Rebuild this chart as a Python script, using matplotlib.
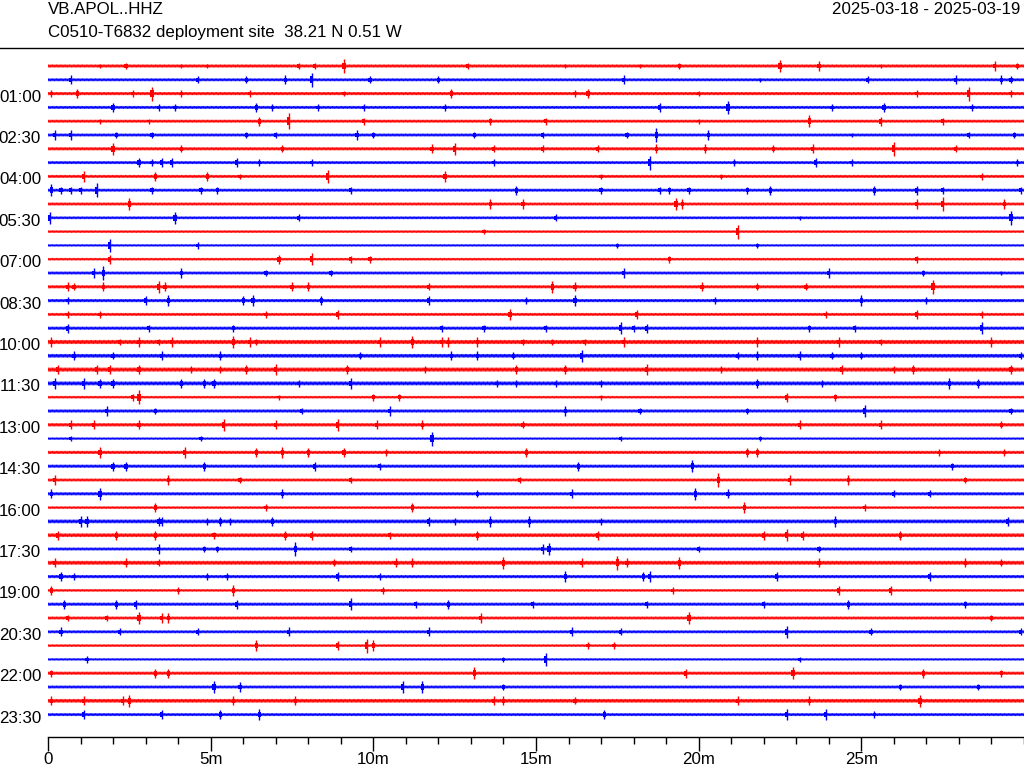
import matplotlib
matplotlib.use("Agg")
import numpy as np
import matplotlib.pyplot as plt
from matplotlib.lines import Line2D
from matplotlib.ticker import MultipleLocator

plt.rcParams['font.family'] = ['Liberation Sans', 'DejaVu Sans']

STATION = "VB.APOL..HHZ"
SITE = "C0510-T6832 deployment site  38.21 N 0.51 W"
DATES = "2025-03-18 - 2025-03-19"

ROW_LABELS = ["%02d:%02d" % (h, m) for h in range(24) for m in (0, 30)]
SHOWN_LABELS = ["01:00", "02:30", "04:00", "05:30", "07:00", "08:30", "10:00", "11:30",
                "13:00", "14:30", "16:00", "17:30", "19:00", "20:30", "22:00", "23:30"]
X_TICKS = [0, 5, 10, 15, 20, 25]
X_TICK_LABELS = ["0", "5m", "10m", "15m", "20m", "25m"]
ROW_MINUTES = 30

# background noise half-amplitude of each 30-minute row (pixels)
NOISE = [1.5, 1.4, 1.5, 1.4, 1.4, 1.4, 1.5, 1.4, 1.4, 1.4, 1.4, 1.3,
         1.2, 1.1, 1.2, 1.4, 1.5, 1.5, 1.4, 1.5, 2.0, 1.8, 2.0, 1.9,
         1.2, 1.5, 1.6, 1.1, 1.5, 1.5, 1.4, 1.5, 1.2, 1.8, 1.8, 1.4,
         1.9, 1.5, 1.2, 1.5, 1.4, 1.4, 1.2, 1.1, 1.5, 1.4, 1.8, 1.4]

# minutes into the row of the visible transients, and their half-amplitudes
EVENT_TIMES = [
    [1.6, 2.4, 4.1, 4.9, 7.7, 8.2, 9.1, 12.9, 15.9, 18.2, 19.4, 22.5, 23.7, 25.6, 29.1, 29.8],
    [0.7, 4.6, 6.1, 7.3, 8.1, 9.9, 12.0, 17.7, 21.9, 25.2, 27.9, 29.3, 29.6],
    [0.1, 0.9, 2.6, 3.2, 4.1, 6.2, 9.1, 12.4, 16.2, 16.6, 20.0, 26.7, 28.3, 29.6],
    [2.0, 3.4, 3.9, 6.4, 6.9, 8.3, 9.7, 12.2, 18.8, 20.9, 24.1, 25.7, 28.4],
    [1.6, 3.1, 6.5, 7.4, 9.7, 13.6, 15.3, 20.0, 23.4, 25.6, 27.5],
    [0.2, 0.7, 2.1, 3.2, 6.1, 7.0, 9.5, 10.0, 13.1, 15.2, 17.8, 18.7, 20.3, 24.7, 28.3, 29.7],
    [2.0, 4.1, 7.2, 11.8, 12.5, 13.7, 15.2, 16.9, 18.7, 20.2, 22.3, 23.5, 26.0, 27.9],
    [2.8, 3.2, 3.5, 3.8, 5.8, 6.5, 8.1, 13.7, 18.5, 21.1, 23.6, 24.7, 29.8],
    [1.1, 3.3, 4.9, 5.9, 8.6, 12.2, 17.0, 20.7, 28.7],
    [0.1, 0.4, 0.7, 1.0, 1.5, 3.2, 4.7, 5.2, 9.3, 14.4, 17.0, 18.8, 19.1, 19.7, 21.5, 22.2, 25.4, 26.7, 27.5, 29.9],
    [2.5, 13.6, 14.6, 19.3, 19.5, 26.7, 27.5, 29.4],
    [0.05, 3.9, 7.7, 15.6, 23.1, 29.6],
    [13.4, 21.2],
    [1.9, 4.6, 17.5, 21.8],
    [1.9, 7.1, 8.1, 9.3, 9.9, 19.1, 26.7],
    [1.4, 1.7, 4.1, 6.7, 8.7, 17.7, 24.0, 26.9, 29.3],
    [0.6, 0.8, 1.7, 3.4, 3.6, 7.5, 8.0, 11.7, 15.5, 16.2, 20.1, 21.8, 23.3, 27.2],
    [0.6, 3.0, 3.7, 6.0, 6.3, 8.4, 11.7, 14.7, 16.2, 20.5, 25.0, 27.0],
    [0.6, 1.6, 6.7, 8.9, 14.2, 18.1, 23.9, 26.7, 28.7],
    [0.6, 3.1, 5.7, 12.1, 13.4, 15.3, 17.6, 18.0, 18.4, 23.4, 24.8, 28.7],
    [0.1, 2.2, 2.8, 3.4, 3.8, 5.7, 6.2, 6.4, 10.2, 11.2, 12.1, 12.3, 13.2, 14.6, 15.5, 16.5, 17.7, 21.8, 24.3, 25.6, 29.0],
    [0.8, 2.0, 3.5, 5.3, 9.6, 12.4, 13.2, 14.3, 16.4, 21.2, 21.8, 23.1, 24.1, 25.0, 29.9],
    [0.3, 1.5, 1.9, 2.8, 4.4, 5.3, 6.1, 7.0, 9.2, 11.6, 14.4, 15.9, 18.4, 20.7, 24.4, 26.0, 26.6, 29.6],
    [0.2, 1.1, 1.6, 2.0, 4.1, 4.8, 5.1, 7.7, 9.3, 13.8, 14.4, 15.6, 17.0, 21.8, 23.8, 27.7, 28.6],
    [2.6, 2.8, 7.1, 10.0, 10.8, 17.0, 22.7, 24.2],
    [1.8, 3.3, 7.8, 10.5, 15.9, 18.2, 21.5, 25.1, 29.6],
    [0.7, 1.4, 2.8, 5.4, 7.0, 8.9, 10.1, 11.5, 14.6, 23.1, 25.6, 29.3],
    [0.7, 4.7, 11.8, 17.6, 21.9],
    [1.6, 4.2, 6.4, 7.2, 8.0, 9.1, 10.4, 14.7, 21.5, 21.8, 27.4, 29.4],
    [2.0, 2.4, 4.8, 8.2, 10.2, 16.3, 19.8, 27.8],
    [0.2, 3.7, 5.9, 9.3, 14.5, 20.6, 22.8, 24.6, 28.2],
    [0.1, 1.6, 7.2, 13.2, 16.1, 19.9, 20.9, 26.0, 27.1],
    [3.3, 6.7, 11.2, 21.4, 25.1],
    [1.0, 1.2, 3.4, 3.5, 4.9, 5.3, 5.6, 6.9, 11.7, 12.5, 13.6, 14.8, 17.0, 24.2, 29.5],
    [0.3, 2.1, 3.3, 5.1, 7.3, 8.1, 10.5, 13.2, 16.9, 22.0, 22.7, 23.2, 26.2],
    [3.4, 4.8, 5.2, 7.6, 9.3, 15.2, 15.4, 20.0, 23.7],
    [0.2, 2.4, 3.4, 8.8, 10.7, 11.2, 14.0, 16.4, 17.5, 17.8, 19.4, 23.7, 28.2, 29.3],
    [0.4, 0.8, 4.9, 5.5, 8.9, 10.2, 15.9, 18.3, 18.5, 22.4, 27.1],
    [0.1, 4.0, 5.7, 10.3, 19.2, 24.3, 25.9],
    [0.5, 2.1, 2.7, 5.8, 9.3, 11.3, 12.3, 14.9, 18.4, 22.0, 24.6, 28.2],
    [0.6, 1.8, 2.8, 3.5, 3.7, 13.3, 19.7, 29.0],
    [0.4, 2.2, 4.6, 7.4, 11.7, 16.1, 17.6, 22.7, 25.3, 29.9],
    [6.4, 8.9, 9.8, 10.0, 16.6, 17.4],
    [1.2, 14.0, 15.3, 23.1],
    [0.1, 3.3, 3.7, 13.1, 19.6, 22.9, 26.9, 29.3],
    [5.1, 5.9, 10.9, 11.5, 14.0, 26.2, 28.6],
    [0.1, 1.1, 2.3, 2.5, 5.7, 7.6, 13.7, 14.0, 16.2, 21.2, 23.4, 26.8],
    [1.1, 3.5, 5.3, 6.5, 17.1, 22.7, 23.9, 25.4],
]
EVENT_AMPS = [
    [2, 3, 2, 2, 3, 3, 6, 3, 2, 2, 3, 5, 4, 2, 4, 3],
    [4, 3, 3, 4, 6, 3, 3, 4, 2, 3, 4, 4, 3],
    [3, 4, 3, 6, 3, 3, 2, 4, 3, 4, 2, 3, 6, 3],
    [4, 3, 3, 4, 3, 3, 3, 3, 4, 6, 3, 4, 3],
    [2, 2, 4, 7, 3, 3, 3, 2, 5, 4, 3],
    [4, 4, 3, 3, 3, 3, 4, 3, 3, 3, 3, 6, 4, 2, 3, 3],
    [5, 3, 3, 4, 5, 3, 3, 3, 4, 4, 3, 4, 6, 3],
    [4, 3, 4, 4, 4, 3, 3, 3, 6, 3, 4, 3, 3],
    [5, 4, 4, 2, 6, 5, 2, 2, 3],
    [5, 3, 3, 3, 6, 3, 3, 3, 3, 4, 3, 3, 3, 3, 3, 4, 4, 4, 3, 3],
    [5, 4, 4, 5, 4, 4, 6, 4],
    [5, 5, 3, 3, 2, 6],
    [2, 6],
    [6, 3, 2, 2],
    [4, 4, 5, 3, 3, 3, 3],
    [4, 6, 4, 3, 3, 4, 4, 3, 2],
    [4, 3, 4, 5, 4, 4, 4, 3, 5, 4, 4, 3, 3, 6],
    [3, 4, 5, 4, 5, 4, 4, 3, 5, 3, 5, 3],
    [3, 3, 3, 4, 5, 4, 3, 4, 3],
    [4, 3, 3, 3, 3, 3, 5, 3, 4, 3, 3, 5],
    [4, 3, 4, 3, 4, 5, 4, 3, 4, 5, 4, 4, 4, 3, 3, 3, 4, 4, 4, 3, 4],
    [4, 3, 4, 4, 3, 4, 4, 3, 5, 3, 4, 4, 3, 3, 3],
    [4, 4, 4, 4, 3, 3, 4, 5, 4, 3, 4, 4, 5, 3, 4, 3, 4, 4],
    [5, 5, 4, 4, 4, 4, 4, 3, 5, 3, 3, 3, 3, 4, 3, 5, 4],
    [3, 6, 2, 3, 3, 2, 4, 3],
    [4, 3, 3, 4, 4, 3, 3, 5, 3],
    [4, 4, 4, 5, 4, 5, 4, 4, 3, 4, 4, 3],
    [2, 2, 6, 2, 2],
    [5, 5, 4, 5, 4, 4, 3, 4, 4, 4, 3, 3],
    [4, 4, 4, 4, 3, 4, 5, 3],
    [4, 4, 3, 3, 3, 6, 4, 4, 3],
    [4, 5, 4, 3, 4, 5, 4, 3, 3],
    [4, 3, 4, 5, 3],
    [5, 5, 4, 4, 3, 4, 3, 4, 4, 3, 5, 5, 3, 5, 4],
    [4, 4, 4, 3, 4, 4, 3, 4, 4, 4, 5, 4, 4],
    [4, 3, 3, 6, 3, 4, 5, 3, 3],
    [4, 4, 3, 3, 4, 4, 5, 4, 6, 4, 5, 4, 4, 3],
    [4, 3, 3, 3, 4, 3, 5, 4, 5, 4, 4],
    [4, 3, 5, 3, 3, 4, 4],
    [4, 4, 4, 4, 5, 3, 4, 3, 3, 3, 4, 3],
    [3, 3, 5, 4, 4, 4, 5, 3],
    [4, 3, 3, 4, 4, 4, 3, 5, 3, 3],
    [5, 4, 6, 5, 3, 3],
    [3, 2, 6, 2],
    [3, 4, 4, 5, 4, 5, 4, 3],
    [5, 4, 5, 5, 3, 3, 3],
    [4, 4, 4, 5, 4, 4, 4, 4, 3, 4, 4, 5],
    [4, 4, 4, 5, 4, 5, 5, 3],
]

COLORS = ["#ff0000", "#0000ff"]
ROW_PX = 13.8      # pixels between rows; amplitudes above are in pixels
N_SAMPLES = 1500   # drawing resolution of the background band

fig = plt.figure(figsize=(10.24, 7.68), dpi=100)
ax = fig.add_axes([48 / 1024, 31 / 768, 976 / 1024, 689 / 768])

t_band = np.linspace(0, ROW_MINUTES, N_SAMPLES)
sign = np.where(np.arange(N_SAMPLES) % 2 == 0, 1.0, -1.0)

n_rows = len(ROW_LABELS)
for i in range(n_rows):
    col = COLORS[i % 2]
    nz = NOISE[i] / ROW_PX
    # background band drawn as a dense wiggle of the row's noise half-amplitude
    ax.plot(t_band, i + sign * nz, color=col, linewidth=0.55, solid_joinstyle='miter')
    for t, a in zip(EVENT_TIMES[i], EVENT_AMPS[i]):
        h = 1.15 * a / ROW_PX
        ax.vlines(t, i - h, i + h, color=col, linewidth=1.0)
        b = 0.5 * h
        ax.fill_between([t - 0.05, t + 0.05], [i - b, i - b], [i + b, i + b],
                        color=col, linewidth=0)

ax.set_xlim(0, ROW_MINUTES)
ax.set_ylim((737 - 66) / 13.8, (48 - 66) / 13.8)

ax.set_xticks(X_TICKS)
ax.set_xticklabels(X_TICK_LABELS, fontsize=12.2)
ax.xaxis.set_minor_locator(MultipleLocator(1))
ax.tick_params(axis='x', which='major', length=10, width=1, direction='out', pad=1)
ax.tick_params(axis='x', which='minor', length=5, width=1, direction='out')

ypos = [ROW_LABELS.index(l) + 0.15 for l in SHOWN_LABELS]
ax.set_yticks(ypos)
ax.set_yticklabels(SHOWN_LABELS, fontsize=12.2)
ax.tick_params(axis='y', length=0, pad=5)

for s in ("top", "left", "right"):
    ax.spines[s].set_visible(False)
ax.spines["bottom"].set_linewidth(1)

fig.text(48 / 1024, 1 - 10 / 768, STATION, fontsize=12.2, va='center', ha='left')
fig.text(48 / 1024, 1 - 33 / 768, SITE, fontsize=12.2, va='center', ha='left')
fig.text(1020 / 1024, 1 - 10 / 768, DATES, fontsize=12.2, va='center', ha='right')
fig.add_artist(Line2D([0, 1], [1 - 48 / 768, 1 - 48 / 768], color='black', linewidth=1))

fig.savefig("out.png", dpi=100)
